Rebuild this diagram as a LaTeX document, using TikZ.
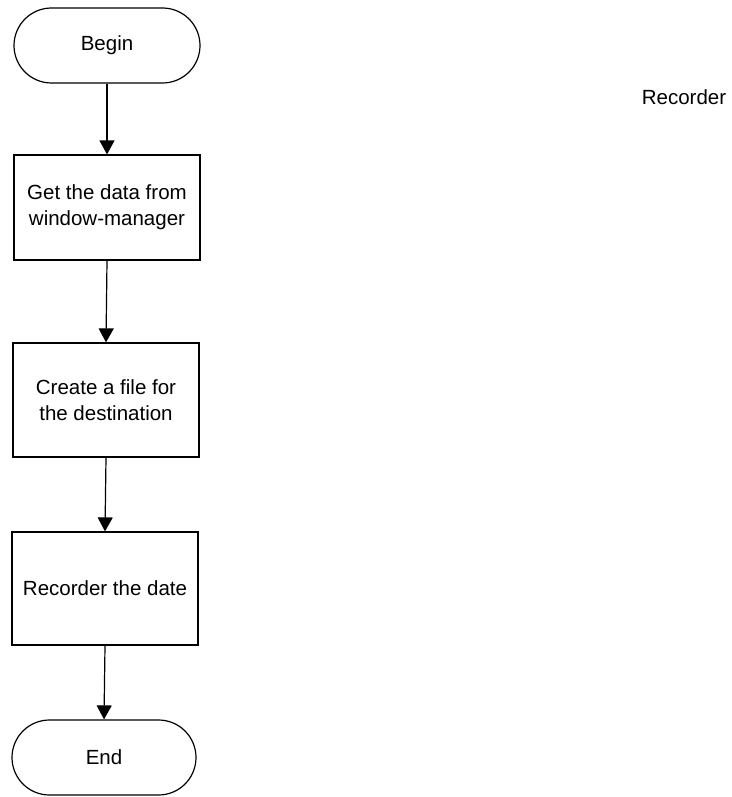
\documentclass[tikz,border=0pt]{standalone}
\usepackage{fontspec}
\setmainfont{Liberation Sans}
\usetikzlibrary{arrows.meta}
\begin{document}
\begin{tikzpicture}[x=1pt,y=-1pt,
  every node/.style={font=\fontsize{20.5}{26}\selectfont, align=center, inner sep=0pt},
  term/.style={draw, line width=1.2pt, minimum width=186pt, minimum height=75pt, rounded corners=37.5pt},
  procbox/.style={draw, line width=1.2pt, minimum width=186pt},
  flow/.style={line width=1.2pt, -{Triangle[length=14pt,width=15pt]}}]
  \useasboundingbox (0,0) rectangle (731,797);
  \node[term] (begin) at (107,45.5) {Begin};
  \node[procbox, minimum height=105pt] (get) at (107,207.5) {Get the data from\\window-manager};
  \node[procbox, minimum height=114pt] (create) at (106,400) {Create a file for\\the destination};
  \node[procbox, minimum height=113pt] (rec) at (105,588.5) {Recorder the date};
  \node[term, minimum width=184pt] (end) at (104,757.5) {End};
  \node (title) at (684,97) {Recorder};
  \draw[flow] (begin.south) -- (get.north);
  \draw[flow] (get.south) -- (create.north);
  \draw[flow] (create.south) -- (rec.north);
  \draw[flow] (rec.south) -- (end.north);
\end{tikzpicture}
\end{document}
